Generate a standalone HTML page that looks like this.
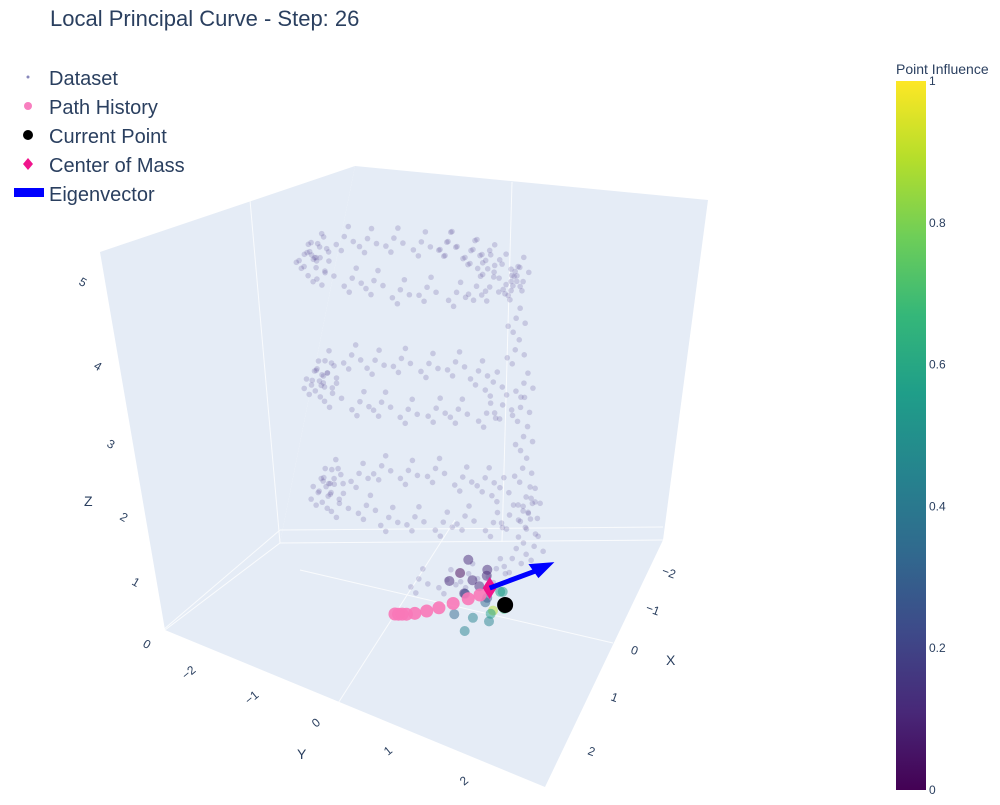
<!DOCTYPE html>
<html><head><meta charset="utf-8"><style>
body{margin:0;background:#fff;font-family:"Liberation Sans",sans-serif;}
svg text{font-family:"Liberation Sans",sans-serif;fill:#2a3f5f;}
</style></head><body>
<svg id="chart" width="1000" height="800" viewBox="0 0 1000 800">
<defs>
<linearGradient id="vir" x1="0" y1="1" x2="0" y2="0">
<stop offset="0" stop-color="#440154"/><stop offset="0.11" stop-color="#482878"/><stop offset="0.22" stop-color="#3e4989"/><stop offset="0.33" stop-color="#31688e"/><stop offset="0.44" stop-color="#26828e"/><stop offset="0.56" stop-color="#1f9e89"/><stop offset="0.67" stop-color="#35b779"/><stop offset="0.78" stop-color="#6ece58"/><stop offset="0.89" stop-color="#b5de2b"/><stop offset="1" stop-color="#fde725"/>
</linearGradient>
</defs>
<text x="50" y="26" font-size="22">Local Principal Curve - Step: 26</text>
<g>
<polygon points="100,252 355,166 280,543 165,630" fill="#e5ecf6"/>
<polygon points="355,166 708,200 663,540 280,543" fill="#e5ecf6"/>
<polygon points="165,630 280,543 663,540 545,787" fill="#e5ecf6"/>
<g stroke="#fff" stroke-width="1" opacity="0.8">
<line x1="250" y1="200" x2="280" y2="543"/><line x1="512" y1="182" x2="502" y2="542"/>
<line x1="280" y1="543" x2="663" y2="540"/><line x1="280" y1="543" x2="165" y2="630"/>
<line x1="163" y1="630" x2="280" y2="530"/><line x1="280" y1="530" x2="663" y2="527"/>
<line x1="455" y1="520" x2="335" y2="708"/><line x1="300" y1="570" x2="613" y2="643"/>
</g>
<g id="data"></g>
</g>
<g font-size="12">
<text x="142" y="646" transform="rotate(30 142 646)">0</text>
<text x="131" y="584" transform="rotate(30 131 584)">1</text>
<text x="119" y="519" transform="rotate(30 119 519)">2</text>
<text x="106" y="446" transform="rotate(30 106 446)">3</text>
<text x="93" y="368" transform="rotate(30 93 368)">4</text>
<text x="78" y="284" transform="rotate(30 78 284)">5</text>
<text x="84" y="506" font-size="14">Z</text>
<text x="186" y="680" transform="rotate(-40 186 680)">−2</text>
<text x="249" y="705" transform="rotate(-40 249 705)">−1</text>
<text x="316" y="728" transform="rotate(-40 316 728)">0</text>
<text x="388" y="756" transform="rotate(-40 388 756)">1</text>
<text x="464" y="786" transform="rotate(-40 464 786)">2</text>
<text x="297" y="759" font-size="14">Y</text>
<text x="661" y="574" transform="rotate(20 661 574)">−2</text>
<text x="645" y="611" transform="rotate(20 645 611)">−1</text>
<text x="630" y="653" transform="rotate(20 630 653)">0</text>
<text x="610" y="700" transform="rotate(20 610 700)">1</text>
<text x="587" y="754" transform="rotate(20 587 754)">2</text>
<text x="666" y="665" font-size="14">X</text>
</g>
<g font-size="20">
<circle cx="28" cy="77" r="1.5" fill="#8888bb"/>
<text x="49" y="85">Dataset</text>
<circle cx="28" cy="106" r="4" fill="#f87fbf"/>
<text x="49" y="114">Path History</text>
<circle cx="28" cy="135" r="5" fill="#000"/>
<text x="49" y="143">Current Point</text>
<polygon points="28,158 33,164 28,170 23,164" fill="#f0148c"/>
<text x="49" y="172">Center of Mass</text>
<rect x="14" y="188" width="30" height="9" fill="#0000ff"/>
<text x="49" y="201">Eigenvector</text>
</g>
<g>
<text x="896" y="74" font-size="14">Point Influence</text>
<rect x="896" y="81" width="30" height="709" fill="url(#vir)"/>
<g font-size="12" id="cbticks"></g>
</g>
</svg>
<script>
// Dataset (helix): angle in degrees, radius, height
const dsAngle=[0,15,30,45,60,75,90,105,120,135,150,165,180,195,210,225,240,255,270,285,300,315,330,345,360,375,390,405,420,435,450,465,480,495,510,525,540,555,570,585,600,615,630,645,660,675,690,705,720,735,750,765,780,795,810,825,840,855,870,885,900,915,930,945,960,975,990,1005,1020,1035,1050,1065,1080,1095,1110,1125,1140,1155,1170,1185,1200,1215,1230,1245];
const dsR=[1.5,1.6,1.4,1.55,1.5,1.65,1.45,1.5,1.6,1.4,1.5,1.55,1.6,1.45,1.5,1.5,1.65,1.4,1.5,1.55,1.5,1.6,1.45,1.5,1.5,1.6,1.4,1.55,1.5,1.65,1.45,1.5,1.6,1.4,1.5,1.55,1.6,1.45,1.5,1.5,1.65,1.4,1.5,1.55,1.5,1.6,1.45,1.5,1.5,1.6,1.4,1.55,1.5,1.65,1.45,1.5,1.6,1.4,1.5,1.55,1.6,1.45,1.5,1.5,1.65,1.4,1.5,1.55,1.5,1.6,1.45,1.5,1.55,1.45,1.6,1.5,1.4,1.55,1.5,1.6,1.45,1.5,1.55,1.5];
const dsZ=[0.3,0.35,0.4,0.5,0.6,0.75,0.9,1.05,1.2,1.25,1.3,1.22,1.28,1.25,1.3,1.2,1.27,1.25,1.32,1.22,1.28,1.25,1.3,1.2,1.27,1.25,1.3,1.22,1.28,1.5,1.85,2.25,2.6,2.9,2.97,3.02,2.92,3.0,2.95,3.05,2.97,2.9,3.0,2.95,3.02,2.97,2.92,3.0,2.95,3.03,2.97,2.93,3.0,3.3,3.7,4.1,4.5,4.8,4.85,4.9,4.82,4.88,4.85,4.9,4.8,4.87,4.85,4.92,4.82,4.88,4.85,4.9,4.83,4.88,4.85,4.9,4.82,4.87,4.85,4.9,4.84,4.88,4.86,4.9];
// Influence-weighted neighbourhood points
const nbX=[0.6,0.9,0.5,1.2,0.8,1.0,0.4,1.3,1.1,0.7,0.9,0.6,1.3,0.5,1.0,1.4,0.8,0.7,1.1,1.2];
const nbY=[0.9,1.1,0.6,1.2,1.3,0.8,0.7,1.0,1.4,0.5,0.9,1.2,1.3,1.0,1.1,0.9,0.75,1.05,1.2,0.7];
const nbZ=[0.35,0.4,0.45,0.25,0.45,0.5,0.6,0.35,0.4,0.45,0.65,0.3,0.5,0.55,0.4,0.2,0.35,0.6,0.3,0.3];
const nbInf=[0.1,0.2,0.05,0.4,0.6,0.15,0.08,0.45,0.7,0.1,0.12,0.5,0.85,0.1,0.35,0.4,0.2,0.12,0.55,0.3];
// Path history
const pathX=[1.345,1.34,1.33,1.32,1.28,1.2,1.1,0.97,0.83,0.72];
const pathY=[-0.12,-0.07,-0.02,0.04,0.15,0.3,0.45,0.62,0.8,0.94];
const pathZ=[0.3,0.3,0.3,0.3,0.3,0.3,0.3,0.3,0.3,0.3];
const current=[1.01,1.39,0.4];
const com=[0.82,1.12,0.5];
const eigen=[-0.31,0.87,0.3];
const cbTicks=[0,0.2,0.4,0.6,0.8,1];
const cbLabels=["0","0.2","0.4","0.6","0.8","1"];

const ns="http://www.w3.org/2000/svg";
function P(x,y,z){return [430-19*x+69*y-4*z, 575+44*x+8*y-64*z];}
function mk(t,a,par){const e=document.createElementNS(ns,t);for(const k in a)e.setAttribute(k,a[k]);par.appendChild(e);return e;}
const viridis=["#440154","#482878","#3e4989","#31688e","#26828e","#1f9e89","#35b779","#6ece58","#b5de2b","#fde725"];
function vcol(v){return viridis[Math.min(9,Math.max(0,Math.round(v*9)))];}
const g=document.getElementById('data');
const offs=[[0,0],[9,5],[-8,8],[4,-10],[-3,14]];
for(let i=0;i<dsAngle.length;i++){
  const a=dsAngle[i]*Math.PI/180;
  const p=P(dsR[i]*0.35*Math.cos(a),dsR[i]*Math.sin(a),dsZ[i]);
  for(const o of offs){
    const c=mk('circle',{cx:p[0]+o[0],cy:p[1]+o[1],r:2.8,fill:'#5a4a96','fill-opacity':0.22},g);
    
    
  }
}
for(let i=0;i<nbX.length;i++){
  const p=P(nbX[i],nbY[i],nbZ[i]);
  const c=mk('circle',{cx:p[0],cy:p[1],r:5,fill:vcol(nbInf[i]),'fill-opacity':0.5},g);
  
  
}
for(let i=0;i<pathX.length;i++){
  const p=P(pathX[i],pathY[i],pathZ[i]);
  const c=mk('circle',{cx:p[0],cy:p[1],r:6.5,fill:'#f878b8','fill-opacity':0.9},g);
  
  
}
const pc=P(com[0],com[1],com[2]);
const d=mk('polygon',{points:`${pc[0]},${pc[1]-11} ${pc[0]+7},${pc[1]} ${pc[0]},${pc[1]+11} ${pc[0]-7},${pc[1]}`,fill:'#f0148c'},g);


const pe=P(com[0]+eigen[0],com[1]+eigen[1],com[2]+eigen[2]);
const ln=mk('line',{x1:pc[0],y1:pc[1],x2:pe[0]-14,y2:pe[1]+7,stroke:'#0000ff','stroke-width':5},g);


const ah=mk('polygon',{points:`${pe[0]},${pe[1]} ${pe[0]-26},${pe[1]+2} ${pe[0]-16},${pe[1]+16}`,fill:'#0000ff'},g);


const pcur=P(current[0],current[1],current[2]);
const cc=mk('circle',{cx:pcur[0],cy:pcur[1],r:8,fill:'#000'},g);


const ct=document.getElementById('cbticks');
for(let i=0;i<cbTicks.length;i++){
  const y=790-cbTicks[i]*709;
  const t=mk('text',{x:929,y:y+4},ct);t.textContent=cbLabels[i];
  
  
}
</script>
</body></html>
